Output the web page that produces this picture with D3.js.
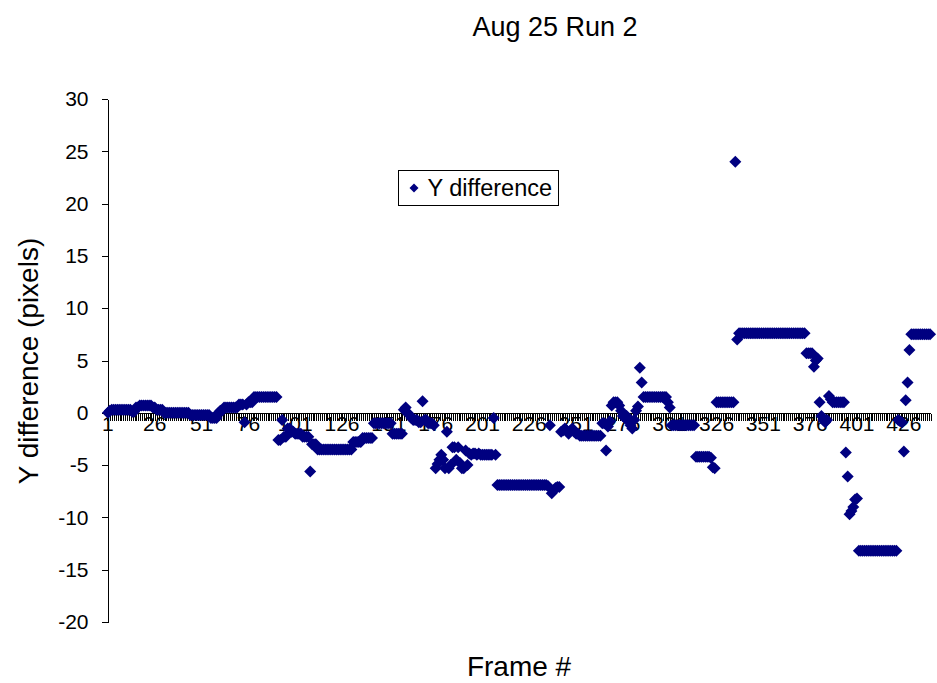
<!DOCTYPE html>
<html>
<head>
<meta charset="utf-8">
<script src="https://cdn.jsdelivr.net/npm/d3@7"></script>
<style>
  body { margin: 0; background: #fff; }
  text { font-family: "Liberation Sans", Arial, sans-serif; fill: #000; }
</style>
</head>
<body>
<svg id="chart" width="937" height="683"></svg>
<script>
// ---- chart content ----
const chartTitle = "Aug 25 Run 2";
const seriesName = "Y difference";
const xTitle = "Frame #";
const yTitle = "Y difference (pixels)";

// y axis tick values and labelled frame numbers on the category axis
const yTicks = [-20, -15, -10, -5, 0, 5, 10, 15, 20, 25, 30];
const xTickLabels = [1, 26, 51, 76, 101, 126, 151, 176, 201, 226, 251, 276, 301, 326, 351, 376, 401, 426];

// vertical offset per frame, frames 1..440 (20 frames per row)
const yDiff = [
  0, 0.2, 0.3, 0.3, 0.3, 0.3, 0.3, 0.3, 0.3, 0.3, 0.3, 0.3, 0.3, 0.1, 0.1, 0.5, 0.5, 0.7, 0.7, 0.7,
  0.7, 0.7, 0.7, 0.7, 0.5, 0.5, 0.3, 0.3, 0.3, 0.3, 0, 0, 0, 0, 0, 0, 0, 0, 0, 0,
  0, 0, 0, 0, -0.2, -0.2, -0.2, -0.2, -0.2, -0.2, -0.2, -0.2, -0.2, -0.2, -0.2, -0.5, -0.5, -0.5, -0.5, 0,
  0.2, 0.2, 0.5, 0.5, 0.5, 0.5, 0.5, 0.5, 0.5, 0.5, 0.8, 0.8, 0.8, -0.9, 0.8, 1.0, 1.0, 1.0, 1.5, 1.5,
  1.5, 1.5, 1.5, 1.5, 1.5, 1.5, 1.5, 1.5, 1.5, 1.5, 1.5, -2.6, -2.6, -0.7, -2.3, -2.3, -1.5, -1.5, -1.8, -1.8,
  -2.0, -2.0, -2.0, -2.0, -2.3, -2.3, -2.3, -2.3, -5.6, -3.0, -3.0, -3.0, -3.5, -3.5, -3.5, -3.5, -3.5, -3.5, -3.5, -3.5,
  -3.5, -3.5, -3.5, -3.5, -3.5, -3.5, -3.5, -3.5, -3.5, -3.5, -3.5, -2.8, -2.8, -2.8, -2.8, -2.8, -2.4, -2.4, -2.4, -2.4,
  -2.4, -2.4, -1.0, -1.0, -1.0, -1.0, -1.0, -1.0, -1.0, -1.0, -1.0, -1.0, -2.0, -2.0, -2.0, -2.0, -2.0, -2.0, 0.3, 0.5,
  0.0, -0.2, -0.5, -0.7, -0.7, -0.7, -0.9, -0.9, 1.1, -0.7, -0.7, -1.0, -1.0, -1.0, -1.2, -5.3, -4.9, -4.5, -4.0, -4.5,
  -5.3, -1.8, -5.3, -5.0, -3.3, -3.3, -4.5, -3.3, -4.8, -5.3, -5.3, -3.6, -5.0, -3.9, -4.0, -3.9, -3.9, -4.0, -3.9, -4.0,
  -4.0, -4.0, -4.0, -4.0, -4.0, -4.0, -0.5, -4.0, -6.9, -6.9, -6.9, -6.9, -6.9, -6.9, -6.9, -6.9, -6.9, -6.9, -6.9, -6.9,
  -6.9, -6.9, -6.9, -6.9, -6.9, -6.9, -6.9, -6.9, -6.9, -6.9, -6.9, -6.9, -6.9, -6.9, -6.9, -7.0, -1.2, -7.7, -7.4, -7.2,
  -7.1, -7.1, -1.8, -1.7, -1.5, -1.7, -2.0, -1.7, -1.5, -1.8, -2.0, -2.0, -2.2, -2.2, -2.2, -2.2, -2.2, -2.2, -2.2, -2.2,
  -2.2, -2.2, -2.2, -2.2, -1.0, -1.0, -3.6, -1.3, -0.8, 0.7, 1.0, 1.0, 1.0, 0.7, 0.2, -0.3, -0.5, -0.3, -0.8, -1.2,
  -1.5, -0.7, 0.2, 0.6, 4.3, 2.9, 1.5, 1.5, 1.5, 1.5, 1.5, 1.5, 1.5, 1.5, 1.5, 1.5, 1.5, 1.5, 1.5, 1.0,
  0.5, -1.2, -1.2, -1.2, -1.2, -1.2, -1.2, -1.2, -1.2, -1.2, -1.2, -1.2, -1.2, -1.2, -4.2, -4.2, -4.2, -4.2, -4.2, -4.2,
  -4.2, -4.2, -4.3, -5.2, -5.3, 1.0, 1.0, 1.0, 1.0, 1.0, 1.0, 1.0, 1.0, 1.0, 1.0, 24.0, 7.0, 7.6, 7.6, 7.6,
  7.6, 7.6, 7.6, 7.6, 7.6, 7.6, 7.6, 7.6, 7.6, 7.6, 7.6, 7.6, 7.6, 7.6, 7.6, 7.6, 7.6, 7.6, 7.6, 7.6,
  7.6, 7.6, 7.6, 7.6, 7.6, 7.6, 7.6, 7.6, 7.6, 7.6, 7.6, 7.6, 7.6, 5.7, 5.7, 5.7, 5.7, 4.4, 5.0, 5.2,
  1.0, -0.3, -0.7, -0.9, -0.7, 1.6, 1.3, 1.0, 1.0, 1.0, 1.0, 1.0, 1.0, 1.0, -3.8, -6.1, -9.7, -9.4, -9.0, -8.3,
  -8.2, -13.2, -13.2, -13.2, -13.2, -13.2, -13.2, -13.2, -13.2, -13.2, -13.2, -13.2, -13.2, -13.2, -13.2, -13.2, -13.2, -13.2, -13.2, -13.2,
  -13.2, -13.2, -0.7, -0.8, -0.9, -3.7, 1.2, 2.9, 6.0, 7.5, 7.5, 7.5, 7.5, 7.5, 7.5, 7.5, 7.5, 7.5, 7.5, 7.5
];
const frames = d3.range(1, yDiff.length + 1);

// ---- layout ----
const plot = { left: 107, right: 931, top: 99, bottom: 622 };
const markerColor = "#000080";

const svg = d3.select("#chart");

const x = d3.scaleBand().domain(frames).range([plot.left, plot.right]);
const y = d3.scaleLinear().domain([d3.min(yTicks), d3.max(yTicks)]).range([plot.bottom, plot.top]);
const cx = f => x(f) + x.bandwidth() / 2;

const diamond = r => `M0,${-r}L${r},0L0,${r}L${-r},0Z`;

// title
svg.append("text")
  .attr("x", 555).attr("y", 36)
  .attr("text-anchor", "middle")
  .style("font-size", "27px")
  .text(chartTitle);

// y axis (plain hyphen for negative labels)
const yAxis = svg.append("g")
  .attr("transform", `translate(${plot.left + 0.5},0)`)
  .call(d3.axisLeft(y).tickValues(yTicks).tickFormat(d => String(d))
    .tickSize(6).tickSizeOuter(0).tickPadding(13));
yAxis.selectAll("path, line").attr("stroke", "#000").attr("shape-rendering", "crispEdges");
yAxis.selectAll("text").style("font-size", "21px").style("font-family", "'Liberation Sans', Arial, sans-serif");

// category axis crossing at y = 0
const y0 = Math.round(y(0)) + 0.5;
const xAxis = svg.append("g").attr("transform", `translate(0,${y0})`);
xAxis.append("line")
  .attr("x1", plot.left).attr("x2", plot.right)
  .attr("stroke", "#000").attr("shape-rendering", "crispEdges");
xAxis.selectAll("line.tick")
  .data(d3.range(frames.length + 1))
  .join("line")
  .attr("class", "tick")
  .attr("x1", i => plot.left + i * x.step())
  .attr("x2", i => plot.left + i * x.step())
  .attr("y1", 0).attr("y2", 7)
  .attr("stroke", "#000")
  .attr("shape-rendering", "crispEdges");

// data markers
svg.append("g")
  .selectAll("path")
  .data(frames)
  .join("path")
  .attr("d", diamond(6))
  .attr("transform", f => `translate(${cx(f)},${y(yDiff[f - 1])})`)
  .attr("fill", markerColor);

// category labels sit on top of the markers
xAxis.selectAll("text")
  .data(xTickLabels)
  .join("text")
  .attr("x", f => cx(f))
  .attr("y", 17)
  .attr("text-anchor", "middle")
  .style("font-size", "21px")
  .text(f => f);

// axis titles
svg.append("text")
  .attr("transform", "translate(38,361) rotate(-90)")
  .attr("text-anchor", "middle")
  .style("font-size", "28px")
  .text(yTitle);
svg.append("text")
  .attr("x", 519).attr("y", 676)
  .attr("text-anchor", "middle")
  .style("font-size", "28px")
  .text(xTitle);

// legend
const legend = svg.append("g").attr("transform", "translate(398.5,170.5)");
legend.append("rect")
  .attr("width", 160).attr("height", 35)
  .attr("fill", "#fff").attr("stroke", "#000");
legend.append("path")
  .attr("d", diamond(4.5))
  .attr("transform", "translate(15.5,17.5)")
  .attr("fill", markerColor);
legend.append("text")
  .attr("x", 29).attr("y", 25)
  .style("font-size", "23.5px")
  .text(seriesName);
</script>
</body>
</html>
